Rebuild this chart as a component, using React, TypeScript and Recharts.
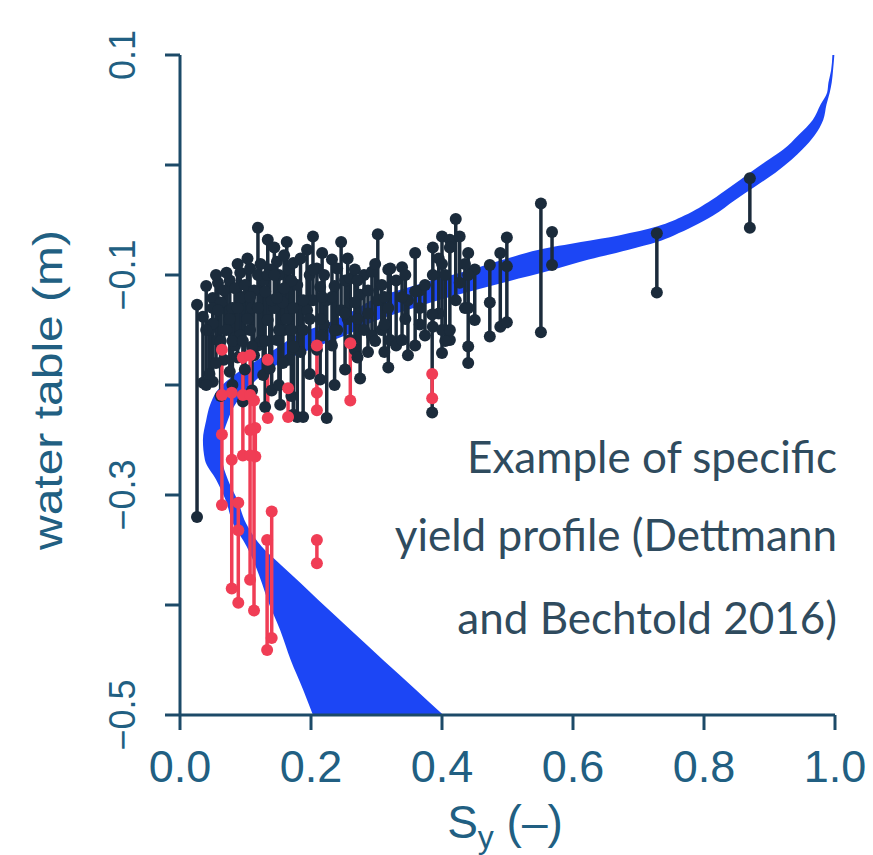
import React from 'react';
import { ComposedChart, Area, Scatter, ErrorBar, XAxis, YAxis } from 'recharts';

const X_TICKS = [0, 0.2, 0.4, 0.6, 0.8, 1.0];
const X_TICK_LABELS = ['0.0', '0.2', '0.4', '0.6', '0.8', '1.0'];
const Y_TICKS = [-0.5, -0.4, -0.3, -0.2, -0.1, 0, 0.1];
const Y_TICK_LABELS = ['\u22120.5', '', '\u22120.3', '', '\u22120.1', '', '0.1'];

// specific yield band: water table level, left and right Sy edge
const BAND_WT = [0.100, 0.086, 0.075, 0.066, 0.055, 0.041, 0.027, 0.014, 0.005, -0.007, -0.020, -0.032, -0.046, -0.056, -0.064, -0.070, -0.077, -0.086, -0.096, -0.109, -0.120, -0.132, -0.143, -0.153, -0.164, -0.176, -0.189, -0.205, -0.218, -0.232, -0.250, -0.268, -0.286, -0.305, -0.326, -0.347, -0.364, -0.380, -0.396, -0.423, -0.450, -0.477, -0.500];
const BAND_LO = [0.996, 0.994, 0.990, 0.988, 0.978, 0.966, 0.944, 0.921, 0.899, 0.870, 0.840, 0.811, 0.770, 0.728, 0.670, 0.612, 0.548, 0.494, 0.440, 0.361, 0.303, 0.266, 0.228, 0.183, 0.154, 0.122, 0.087, 0.057, 0.046, 0.040, 0.035, 0.038, 0.055, 0.070, 0.081, 0.102, 0.115, 0.125, 0.134, 0.153, 0.169, 0.188, 0.203];
const BAND_HI = [0.999, 0.997, 0.995, 0.992, 0.987, 0.982, 0.969, 0.950, 0.934, 0.909, 0.877, 0.847, 0.814, 0.783, 0.754, 0.728, 0.685, 0.624, 0.565, 0.480, 0.412, 0.346, 0.293, 0.260, 0.214, 0.166, 0.129, 0.101, 0.084, 0.073, 0.065, 0.065, 0.073, 0.088, 0.101, 0.125, 0.155, 0.184, 0.212, 0.261, 0.310, 0.360, 0.402];

// black observations: Sy with the upper and lower water table of each bar
const BLACK_SY = [0.026, 0.035, 0.050, 0.058, 0.067, 0.076, 0.084, 0.092, 0.099, 0.107, 0.113, 0.119, 0.127, 0.134, 0.140, 0.148, 0.153, 0.159, 0.166, 0.173, 0.179, 0.188, 0.194, 0.203, 0.209, 0.214, 0.220, 0.224, 0.232, 0.240, 0.246, 0.252, 0.260, 0.267, 0.275, 0.281, 0.287, 0.293, 0.302, 0.308, 0.318, 0.321, 0.330, 0.339, 0.348, 0.359, 0.366, 0.374, 0.385, 0.386, 0.400, 0.412, 0.421, 0.427, 0.440, 0.450, 0.473, 0.489, 0.499, 0.551, 0.568, 0.728, 0.870,
    0.040, 0.045, 0.055, 0.062, 0.071, 0.080, 0.088, 0.096, 0.103, 0.110, 0.123, 0.130, 0.137, 0.144, 0.151, 0.157, 0.163, 0.170, 0.184, 0.198, 0.217, 0.236, 0.256, 0.271, 0.298, 0.312, 0.344, 0.395, 0.405, 0.435];
const BLACK_TOP = [-0.127, -0.138, -0.121, -0.107, -0.114, -0.105, -0.112, -0.098, -0.109, -0.094, -0.114, -0.057, -0.105, -0.068, -0.123, -0.088, -0.118, -0.082, -0.095, -0.089, -0.109, -0.123, -0.077, -0.065, -0.094, -0.111, -0.100, -0.123, -0.086, -0.094, -0.070, -0.105, -0.103, -0.095, -0.118, -0.100, -0.114, -0.097, -0.063, -0.109, -0.095, -0.094, -0.105, -0.093, -0.123, -0.080, -0.114, -0.109, -0.136, -0.075, -0.065, -0.068, -0.049, -0.065, -0.080, -0.095, -0.091, -0.080, -0.066, -0.035, -0.061, -0.062, -0.012,
    -0.110, -0.150, -0.100, -0.125, -0.098, -0.130, -0.090, -0.120, -0.085, -0.130, -0.090, -0.115, -0.095, -0.075, -0.100, -0.125, -0.070, -0.105, -0.085, -0.100, -0.080, -0.110, -0.085, -0.105, -0.090, -0.120, -0.100, -0.085, -0.100, -0.090];
const BLACK_BOTTOM = [-0.320, -0.198, -0.197, -0.159, -0.177, -0.188, -0.164, -0.155, -0.186, -0.150, -0.173, -0.164, -0.191, -0.141, -0.205, -0.159, -0.218, -0.150, -0.177, -0.227, -0.229, -0.229, -0.132, -0.123, -0.168, -0.195, -0.145, -0.230, -0.164, -0.150, -0.132, -0.186, -0.159, -0.168, -0.194, -0.150, -0.170, -0.155, -0.123, -0.150, -0.184, -0.159, -0.164, -0.159, -0.173, -0.164, -0.145, -0.155, -0.225, -0.147, -0.171, -0.159, -0.123, -0.107, -0.180, -0.141, -0.156, -0.147, -0.143, -0.152, -0.091, -0.116, -0.057,
    -0.200, -0.190, -0.180, -0.210, -0.150, -0.200, -0.175, -0.215, -0.140, -0.205, -0.160, -0.220, -0.185, -0.130, -0.200, -0.180, -0.140, -0.210, -0.170, -0.190, -0.155, -0.200, -0.140, -0.175, -0.160, -0.170, -0.140, -0.135, -0.160, -0.130];
const BLACK_MID_SY = [0.050, 0.050, 0.058, 0.076, 0.092, 0.107, 0.119, 0.119, 0.134, 0.148, 0.159, 0.173, 0.173, 0.188, 0.203, 0.214, 0.232, 0.252, 0.267, 0.287, 0.318, 0.339, 0.359, 0.366, 0.386, 0.400, 0.400, 0.412, 0.412, 0.440, 0.440, 0.440, 0.473, 0.499,
    0.040, 0.062, 0.080, 0.096, 0.110, 0.130, 0.151, 0.170, 0.198, 0.236, 0.271, 0.312, 0.088, 0.144, 0.217];
const BLACK_MID_WT = [-0.130, -0.144, -0.132, -0.140, -0.121, -0.120, -0.100, -0.130, -0.100, -0.121, -0.112, -0.130, -0.165, -0.150, -0.095, -0.140, -0.120, -0.135, -0.125, -0.135, -0.130, -0.120, -0.115, -0.130, -0.100, -0.090, -0.150, -0.075, -0.150, -0.100, -0.130, -0.165, -0.125, -0.092,
    -0.150, -0.160, -0.160, -0.160, -0.165, -0.160, -0.150, -0.150, -0.140, -0.150, -0.140, -0.145, -0.130, -0.100, -0.120];

// red observations
const RED_SY = [0.064, 0.079, 0.089, 0.096, 0.107, 0.113, 0.115, 0.133, 0.140, 0.134, 0.165, 0.209, 0.209, 0.260, 0.385];
const RED_TOP = [-0.168, -0.207, -0.307, -0.175, -0.173, -0.214, -0.239, -0.341, -0.315, -0.177, -0.203, -0.164, -0.341, -0.162, -0.190];
const RED_BOTTOM = [-0.309, -0.385, -0.398, -0.264, -0.377, -0.405, -0.265, -0.441, -0.430, -0.230, -0.229, -0.223, -0.362, -0.214, -0.212];
const RED_MID_SY = [0.064, 0.064, 0.079, 0.089, 0.096, 0.107, 0.107, 0.107, 0.209];
const RED_MID_WT = [-0.209, -0.245, -0.268, -0.332, -0.209, -0.209, -0.241, -0.264, -0.207];

const AXIS = '#1c4a68';
const TICK_TEXT = '#215f82';
const NOTE = '#2f4b5e';
const BLACK = '#1b2b3b';
const RED = '#f03d55';
const BLUE = '#1c46f5';
const FONT = '"Liberation Sans", Arial, sans-serif';

const bandRows = BAND_WT.map((wt, i) => ({ wt, band: [BAND_LO[i], BAND_HI[i]] }));

const barRows = (sy: number[], top: number[], bottom: number[]) =>
    sy.map((s, i) => ({ sy: s, wt: bottom[i], err: [0, top[i] - bottom[i]] }));
const topRows = (sy: number[], top: number[]) => sy.map((s, i) => ({ sy: s, wt: top[i] }));

const blackBars = barRows(BLACK_SY, BLACK_TOP, BLACK_BOTTOM);
const blackTops = topRows(BLACK_SY, BLACK_TOP);
const blackMids = topRows(BLACK_MID_SY, BLACK_MID_WT);
const redBars = barRows(RED_SY, RED_TOP, RED_BOTTOM);
const redTops = topRows(RED_SY, RED_TOP);
const redMids = topRows(RED_MID_SY, RED_MID_WT);

const dot = (color: string) => (props: any) => (
    <circle cx={props.cx} cy={props.cy} r={6} fill={color} />
);

const XTick = ({ x, y, payload }: any) => {
    const i = X_TICKS.indexOf(payload.value);
    return (
        <text x={x} y={y + 50} textAnchor="middle" fontSize={45} fontFamily={FONT} fill={TICK_TEXT}>
            {X_TICK_LABELS[i]}
        </text>
    );
};

const YTick = ({ x, y, payload }: any) => {
    const i = Y_TICKS.indexOf(payload.value);
    const label = Y_TICK_LABELS[i];
    if (!label) return <g />;
    const bx = x - 28;
    return (
        <text x={bx} y={y} transform={`rotate(-90 ${bx} ${y})`} textAnchor="middle" fontSize={36} fontFamily={FONT} fill={TICK_TEXT}>
            {label}
        </text>
    );
};

export default function App() {
    return (
        <div style={{ position: 'absolute', left: 0, top: 0, width: 873, height: 855, background: '#fff' }}>
            <ComposedChart
                layout="vertical"
                width={873}
                height={855}
                data={bandRows}
                margin={{ top: 55, right: 38, bottom: 0, left: 0 }}
            >
                <XAxis
                    type="number"
                    domain={[0, 1]}
                    ticks={X_TICKS}
                    height={140}
                    stroke={AXIS}
                    strokeWidth={3}
                    tickSize={15}
                    tick={<XTick />}
                    allowDataOverflow
                />
                <YAxis
                    type="number"
                    dataKey="wt"
                    domain={[-0.5, 0.1]}
                    ticks={Y_TICKS}
                    reversed
                    width={180}
                    stroke={AXIS}
                    strokeWidth={3}
                    tickSize={15}
                    tick={<YTick />}
                    allowDataOverflow
                />
                <Area
                    type="monotone"
                    dataKey="band"
                    stroke="none"
                    fill={BLUE}
                    fillOpacity={1}
                    isAnimationActive={false}
                />
                <Scatter data={blackBars} dataKey="sy" shape={dot(BLACK)} isAnimationActive={false}>
                    <ErrorBar dataKey="err" direction="y" width={0} stroke={BLACK} strokeWidth={3.5} />
                </Scatter>
                <Scatter data={blackTops} dataKey="sy" shape={dot(BLACK)} isAnimationActive={false} />
                <Scatter data={blackMids} dataKey="sy" shape={dot(BLACK)} isAnimationActive={false} />
                <Scatter data={redBars} dataKey="sy" shape={dot(RED)} isAnimationActive={false}>
                    <ErrorBar dataKey="err" direction="y" width={0} stroke={RED} strokeWidth={3.5} />
                </Scatter>
                <Scatter data={redTops} dataKey="sy" shape={dot(RED)} isAnimationActive={false} />
                <Scatter data={redMids} dataKey="sy" shape={dot(RED)} isAnimationActive={false} />
            </ComposedChart>

            {/* axis titles and note */}
            <svg width={873} height={855} style={{ position: 'absolute', left: 0, top: 0, pointerEvents: 'none' }}>
                <text
                    x={62}
                    y={390}
                    transform="rotate(-90 62 390)"
                    textAnchor="middle"
                    fontSize={40}
                    fontFamily={FONT}
                    fill={TICK_TEXT}
                    textLength={320}
                    lengthAdjust="spacingAndGlyphs"
                >
                    water table (m)
                </text>
                <text x={505} y={838} textAnchor="middle" fontSize={46} fontFamily={FONT} fill={TICK_TEXT}>
                    S<tspan fontSize={32} dy={10}>y</tspan>
                    <tspan dy={-10}> (–)</tspan>
                </text>
                <g fontFamily="Lato, 'Open Sans', sans-serif" fontSize={44} fill={NOTE} textAnchor="end">
                    <text x={837} y={473}>Example of specific</text>
                    <text x={837} y={551}>yield profile (Dettmann</text>
                    <text x={837} y={634}>and Bechtold 2016)</text>
                </g>
            </svg>
        </div>
    );
}
